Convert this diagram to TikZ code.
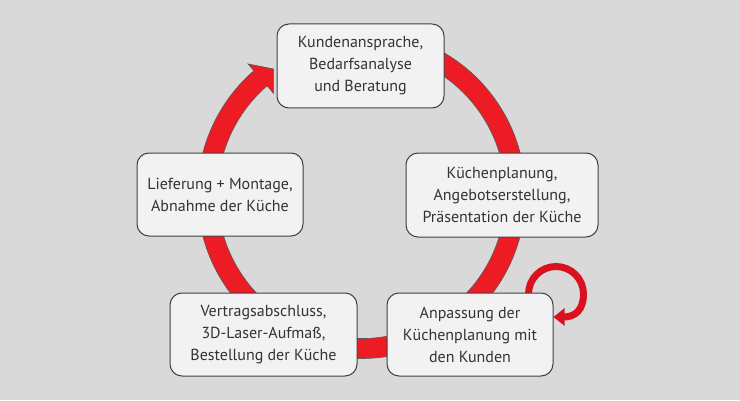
\documentclass[tikz,border=0pt]{standalone}
\usepackage{fontspec}
\setmainfont{PT Sans}
\usetikzlibrary{arrows.meta,backgrounds}
\definecolor{bgc}{RGB}{217,217,217}
\definecolor{boxfill}{RGB}{242,242,242}
\definecolor{boxline}{RGB}{64,64,64}
\definecolor{txt}{RGB}{51,51,51}
\definecolor{ringred}{RGB}{237,28,36}
\definecolor{ringline}{RGB}{90,90,90}
\definecolor{loopred}{RGB}{218,18,32}
\begin{document}
\begin{tikzpicture}[x=1pt,y=1pt,
  stage/.style={draw=boxline, fill=boxfill, line width=1pt, rounded corners=12pt,
    align=center, text=txt, font=\fontsize{16}{22}\selectfont, inner sep=0pt},
  ringshape/.style={fill=ringred, draw=ringline, line width=0.6pt},
  loopline/.style={draw=loopred, line width=7pt, -{Triangle[width=17pt,length=11pt]}}]
\useasboundingbox (0,0) rectangle (740,400);
\node[stage, minimum width=167pt, minimum height=84pt] (top) at (360.5,334)
  {Kundenansprache,\\Bedarfsanalyse\\und Beratung};
\node[stage, minimum width=192pt, minimum height=84pt] (kp) at (502,205)
  {Küchenplanung,\\Angebotserstellung,\\Präsentation der Küche};
\node[stage, minimum width=166pt, minimum height=83pt] (anp) at (470,65.5)
  {Anpassung der\\Küchenplanung mit\\den Kunden};
\node[stage, minimum width=187pt, minimum height=83pt] (vert) at (263.5,65.5)
  {Vertragsabschluss,\\3D-Laser-Aufmaß,\\Bestellung der Küche};
\node[stage, minimum width=166pt, minimum height=83pt] (lief) at (220,205.5)
  {Lieferung + Montage,\\Abnahme der Küche};
\begin{scope}[on background layer]
  \fill[bgc] (0,0) rectangle (740,400);
  \begin{scope}[shift={(361.5,205.5)}]
    \path[ringshape] (131:164pt) arc[start angle=131,end angle=435,radius=164pt]
      -- (435:144pt) arc[start angle=435,end angle=131,radius=144pt]
      -- (131:134pt) -- (-87.9,125.5) -- (131:173pt) -- cycle;
  \end{scope}
  \coordinate (loopstart) at (528.5,106);
  \path[loopline] (loopstart) arc[start angle=180,end angle=0,radius=27.5pt]
    .. controls (583.5,90) and (575,83) .. ([yshift=17.5pt]anp.east);
\end{scope}
\end{tikzpicture}
\end{document}
